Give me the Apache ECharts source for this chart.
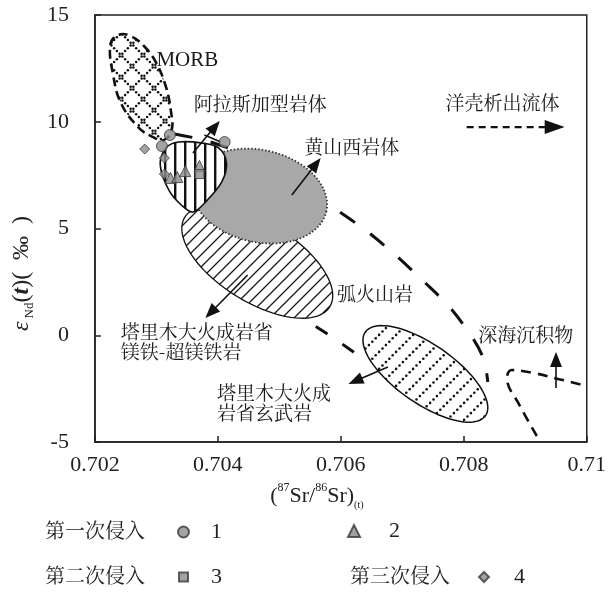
<!DOCTYPE html>
<html><head><meta charset="utf-8">
<script src="https://cdn.jsdelivr.net/npm/echarts@6/dist/echarts.min.js"></script>
<style>html,body{margin:0;padding:0;background:#fff}#c{width:609px;height:610px}</style>
</head><body><div id="c"></div>
<script>
// ---------- data (x = (87Sr/86Sr)t, y = εNd(t)) ----------
const xTickValues = [0.702, 0.704, 0.706, 0.708, 0.710];
const yTickValues = [-5, 0, 5, 10, 15];

const intrusion1Circles = [[0.70322, 9.38], [0.70309, 8.86], [0.70411, 9.05]];
const intrusion1Triangles = [[0.70323, 7.37], [0.70334, 7.41], [0.70347, 7.69], [0.70370, 7.93]];
const intrusion2Squares = [[0.70370, 7.55]];
const intrusion3Diamonds = [[0.70281, 8.72], [0.70313, 8.30], [0.70313, 7.55]];

const morbField = [[0.70225,13.59],[0.702375,14.06],[0.702578,14.02],[0.702813,13.50],[0.703,12.75],[0.703156,11.63],[0.703234,10.55],[0.70325,9.61],[0.703125,9.15],[0.702938,9.29],[0.702703,9.75],[0.702422,10.88],[0.702297,12.19]];
const alaskaField = [[0.703063,7.97],[0.703156,8.77],[0.703359,9.05],[0.70375,9.00],[0.704016,8.77],[0.704141,8.07],[0.704063,7.18],[0.703828,6.33],[0.703594,5.77],[0.703406,6.10],[0.703203,6.80]];
// ellipses: [centre x, centre y, major-axis end x, y, minor-axis end x, y]
const huangshanxiField = [0.704672, 6.52, 0.705766, 5.82, 0.704516, 4.41];
const arcVolcanicField = [0.704641, 3.43, 0.705828, 1.37, 0.704328, 1.79];
const tarimBasaltField = [0.707375, -1.81, 0.708359, -3.74, 0.707125, -2.99];

const mixingUpper = [[0.703297,9.43],[0.703828,9.10],[0.704453,8.44],[0.705156,7.37],[0.705859,6.01],[0.706438,4.84],[0.706906,3.71],[0.707359,2.49],[0.707781,1.28],[0.708156,-0.18],[0.708328,-1.16],[0.708391,-2.19]];
const mixingLower = [[0.705156,1.23],[0.705875,-0.12],[0.706438,-1.25]];
const pelagicField = [[0.709188,-4.72],[0.708906,-3.27],[0.708703,-2.00],[0.708781,-1.63],[0.709141,-1.77],[0.709609,-2.10],[0.710,-2.38]];

const solidArrows = [
  [0.703594, 8.54, 0.704031, 10.04],
  [0.705203, 6.57, 0.705672, 8.30],
  [0.704484, 2.82, 0.703797, 0.81],
  [0.706766, -1.49, 0.706125, -2.28],
  [0.709500, -2.47, 0.709500, -0.78]
];
const dashedArrows = [[0.708047, 9.75, 0.709641, 9.75]];
const leaderLine = [[0.703781, 9.38], [0.704047, 9.05]];

const annotations = [
  [0.70300, 12.89, 'MORB'],
  [0.703609, 10.83, '阿拉斯加型岩体'],
  [0.705406, 8.82, '黄山西岩体'],
  [0.707703, 10.88, '洋壳析出流体'],
  [0.705938, 1.93, '弧火山岩'],
  [0.702422, 0.15, '塔里木大火成岩省'],
  [0.702422, -0.78, '镁铁-超镁铁岩'],
  [0.708234, 0.01, '深海沉积物'],
  [0.703984, -2.70, '塔里木大火成'],
  [0.703984, -3.64, '岩省玄武岩']
];

// ---------- styles ----------
const serif = '"Liberation Serif", "DejaVu Serif", serif';
const cjk = '"Noto Serif CJK SC", "Noto Sans CJK SC", sans-serif';
const ink = '#111';

function tile(size, draw) {
  const c = document.createElement('canvas');
  c.width = size; c.height = size;
  const g = c.getContext('2d');
  g.fillStyle = '#fff'; g.fillRect(0, 0, size, size);
  draw(g, size);
  return c;
}
const stripeTile = tile(10, (g, s) => { g.fillStyle = ink; g.fillRect(4, 0, 2.4, s); });
const slashTile = tile(12, (g, s) => {
  g.strokeStyle = '#1a1a1a'; g.lineWidth = 1.3; g.beginPath();
  g.moveTo(0, s); g.lineTo(s, 0);
  g.moveTo(-2, 2); g.lineTo(2, -2);
  g.moveTo(s - 2, s + 2); g.lineTo(s + 2, s - 2);
  g.stroke();
});
const dotSlashTile = tile(17, (g, s) => {
  g.fillStyle = ink; const n = 5;
  for (let i = 0; i < n; i++) { const t = (i + 0.5) * s / n; g.beginPath(); g.arc(t, s - t, 1.3, 0, Math.PI * 2); g.fill(); }
});
const dotCrossTile = tile(22, (g, s) => {
  g.fillStyle = ink; const n = 8;
  for (let i = 0; i < n; i++) {
    const t = (i + 0.5) * s / n;
    g.beginPath(); g.arc(t, s - t, 1.25, 0, Math.PI * 2); g.fill();
    g.beginPath(); g.arc(t, t, 1.25, 0, Math.PI * 2); g.fill();
  }
});
const pat = c => ({ image: c, repeat: 'repeat' });

function ellipsePolygon(api, v) {
  const c = api.coord([v[0], v[1]]), m = api.coord([v[2], v[3]]), n = api.coord([v[4], v[5]]);
  const ux = m[0] - c[0], uy = m[1] - c[1], vx = n[0] - c[0], vy = n[1] - c[1];
  const pts = [];
  for (let i = 0; i < 96; i++) {
    const t = i / 96 * Math.PI * 2, ct = Math.cos(t), st = Math.sin(t);
    pts.push([c[0] + ux * ct + vx * st, c[1] + uy * ct + vy * st]);
  }
  return pts;
}
function ellipseSeries(name, field, z, style) {
  return { type: 'custom', name, z, silent: true, clip: true, data: [field],
    renderItem: (params, api) => ({ type: 'polygon', shape: { points: ellipsePolygon(api, field) }, style }) };
}
function outlineSeries(name, pts, z, style, smooth) {
  return { type: 'custom', name, z, silent: true, clip: true, data: pts,
    renderItem: (params, api) => params.dataIndex === 0 ?
      { type: 'polygon', shape: { points: pts.map(p => api.coord(p)), smooth }, style } : null };
}
function dashedLine(name, pts, z, width, dash, smooth) {
  return { type: 'line', name, z, data: pts, smooth, symbol: 'none', silent: true, clip: true,
    lineStyle: { color: ink, width, type: dash, cap: 'butt' } };
}
function arrowSeries(name, arrows, z, dashed, L, W) {
  return { type: 'custom', name, z, silent: true, clip: false, data: arrows,
    renderItem: (params, api) => {
      const a = arrows[params.dataIndex];
      const p1 = api.coord([a[0], a[1]]), p2 = api.coord([a[2], a[3]]);
      const dx = p2[0] - p1[0], dy = p2[1] - p1[1], len = Math.hypot(dx, dy);
      const ux = dx / len, uy = dy / len;
      const bx = p2[0] - ux * L, by = p2[1] - uy * L;
      return { type: 'group', children: [
        { type: 'line', shape: { x1: p1[0], y1: p1[1], x2: bx + ux * 2, y2: by + uy * 2 },
          style: { stroke: ink, lineWidth: dashed ? 2.2 : 1.6, lineDash: dashed ? [7, 5] : null } },
        { type: 'polygon', shape: { points: [[p2[0], p2[1]], [bx - uy * W, by + ux * W], [bx + uy * W, by - ux * W]] },
          style: { fill: ink } }
      ] };
    } };
}

const markerStyle = { color: '#8c8c8c', borderColor: '#3a3a3a', borderWidth: 1 };
const legendCommon = { orient: 'horizontal', selectedMode: false, itemGap: 0, padding: 0 };
const legendText = pad => ({ fontFamily: serif, fontSize: 22, color: '#222', lineHeight: 24, padding: [0, 0, 0, pad] });

const option = {
  animation: false,
  backgroundColor: '#fff',
  grid: { left: 88, right: 9, top: 15, bottom: 168, show: true, borderColor: '#222', borderWidth: 1.5, backgroundColor: 'transparent' },
  xAxis: {
    type: 'value', min: xTickValues[0], max: xTickValues[xTickValues.length - 1],
    interval: xTickValues[1] - xTickValues[0],
    name: '({sup|87}Sr/{sup|86}Sr){sub|(t)}', nameLocation: 'middle', nameGap: 40,
    nameTextStyle: { fontFamily: serif, fontSize: 22, color: '#222', lineHeight: 28, padding: [0, 48, 0, 0],
      rich: { sup: { fontFamily: serif, fontSize: 12, color: '#222', verticalAlign: 'top' },
              sub: { fontFamily: serif, fontSize: 10, color: '#222', verticalAlign: 'bottom' } } },
    axisLine: { show: true, onZero: false, lineStyle: { color: '#222', width: 1.5 } },
    axisTick: { show: true, inside: true, length: 6, lineStyle: { color: '#222', width: 1.5 } },
    axisLabel: { fontFamily: serif, fontSize: 22, color: '#222', margin: 12,
      formatter: v => String(Number(v.toFixed(3))) },
    splitLine: { show: false }
  },
  yAxis: {
    type: 'value', min: yTickValues[0], max: yTickValues[yTickValues.length - 1],
    interval: yTickValues[1] - yTickValues[0],
    name: '{e|ε}{sub| Nd}({it|t})(  ‰  )', nameLocation: 'middle', nameGap: 52, nameRotate: 90,
    nameTextStyle: { fontFamily: serif, fontSize: 24, color: '#222', lineHeight: 28, padding: [0, 90, 0, 0],
      rich: { e: { fontFamily: serif, fontSize: 24, fontStyle: 'italic', color: '#222' },
              sub: { fontFamily: serif, fontSize: 13, color: '#222', verticalAlign: 'bottom' },
              it: { fontFamily: serif, fontSize: 24, fontStyle: 'italic', fontWeight: 'bold', color: '#222' } } },
    axisLine: { show: true, onZero: false, lineStyle: { color: '#222', width: 1.5 } },
    axisTick: { show: true, inside: true, length: 6, lineStyle: { color: '#222', width: 1.5 } },
    axisLabel: { fontFamily: serif, fontSize: 22, color: '#222', margin: 26 },
    splitLine: { show: false }
  },
  legend: [
    Object.assign({ data: ['1'], left: 177, top: 520, itemWidth: 11, itemHeight: 11, textStyle: legendText(17) }, legendCommon),
    Object.assign({ data: ['2'], left: 347, top: 519, itemWidth: 12, itemHeight: 12, textStyle: legendText(24) }, legendCommon),
    Object.assign({ data: ['3'], left: 178, top: 565, itemWidth: 9, itemHeight: 9, textStyle: legendText(18) }, legendCommon),
    Object.assign({ data: ['4'], left: 478, top: 565, itemWidth: 10, itemHeight: 10, textStyle: legendText(20) }, legendCommon)
  ],
  graphic: [
    { type: 'text', left: 45, top: 520, style: { text: '第一次侵入', font: '20px ' + cjk, fill: '#222' } },
    { type: 'text', left: 45, top: 565, style: { text: '第二次侵入', font: '20px ' + cjk, fill: '#222' } },
    { type: 'text', left: 350, top: 565, style: { text: '第三次侵入', font: '20px ' + cjk, fill: '#222' } }
  ],
  series: [
    dashedLine('混合线上界', mixingUpper, 1, 3, [18, 19], 0.3),
    dashedLine('混合线下界', mixingLower, 1, 3, [14, 18], 0.3),
    ellipseSeries('弧火山岩', arcVolcanicField, 2, { fill: pat(slashTile), stroke: ink, lineWidth: 1.3 }),
    ellipseSeries('黄山西岩体', huangshanxiField, 3, { fill: '#a8a8a8', stroke: '#333', lineWidth: 1.8, lineDash: [1.5, 2] }),
    outlineSeries('阿拉斯加型岩体', alaskaField, 4, { fill: pat(stripeTile), stroke: ink, lineWidth: 1.6 }, 0.35),
    outlineSeries('MORB', morbField, 4, { fill: pat(dotCrossTile), stroke: ink, lineWidth: 2.6, lineDash: [9, 5] }, 0.4),
    ellipseSeries('塔里木大火成岩省玄武岩', tarimBasaltField, 2, { fill: pat(dotSlashTile), stroke: ink, lineWidth: 1.5 }),
    dashedLine('深海沉积物', pelagicField, 2, 2.6, [10, 7], 0.4),
    arrowSeries('箭头', solidArrows, 5, false, 15, 6),
    arrowSeries('洋壳析出流体', dashedArrows, 5, true, 20, 7),
    { type: 'line', name: '引线', data: leaderLine, z: 5, symbol: 'none', silent: true, lineStyle: { color: ink, width: 1.6 } },
    { type: 'scatter', name: '1', data: intrusion1Circles, symbol: 'circle', symbolSize: 11, z: 6, itemStyle: markerStyle },
    { type: 'scatter', name: '2', data: intrusion1Triangles, symbol: 'triangle', symbolSize: 11, z: 6, itemStyle: markerStyle },
    { type: 'scatter', name: '3', data: intrusion2Squares, symbol: 'rect', symbolSize: 9, z: 6, itemStyle: markerStyle },
    { type: 'scatter', name: '4', data: intrusion3Diamonds, symbol: 'diamond', symbolSize: 10, z: 6, itemStyle: markerStyle },
    { type: 'custom', name: '注记', z: 7, silent: true, clip: false,
      data: annotations.map(a => [a[0], a[1]]),
      renderItem: (params, api) => {
        const a = annotations[params.dataIndex];
        const p = api.coord([a[0], a[1]]);
        const isCjk = /[\u4e00-\u9fff]/.test(a[2]);
        return { type: 'text', x: p[0], y: p[1],
          style: { text: a[2], fill: '#1a1a1a', align: 'left', verticalAlign: 'middle',
            font: isCjk ? ('19px ' + cjk) : ('21px ' + serif) } };
      } }
  ]
};

const chart = echarts.init(document.getElementById('c'), null, { renderer: 'canvas', width: 609, height: 610 });
chart.setOption(option);
</script>
</body></html>
